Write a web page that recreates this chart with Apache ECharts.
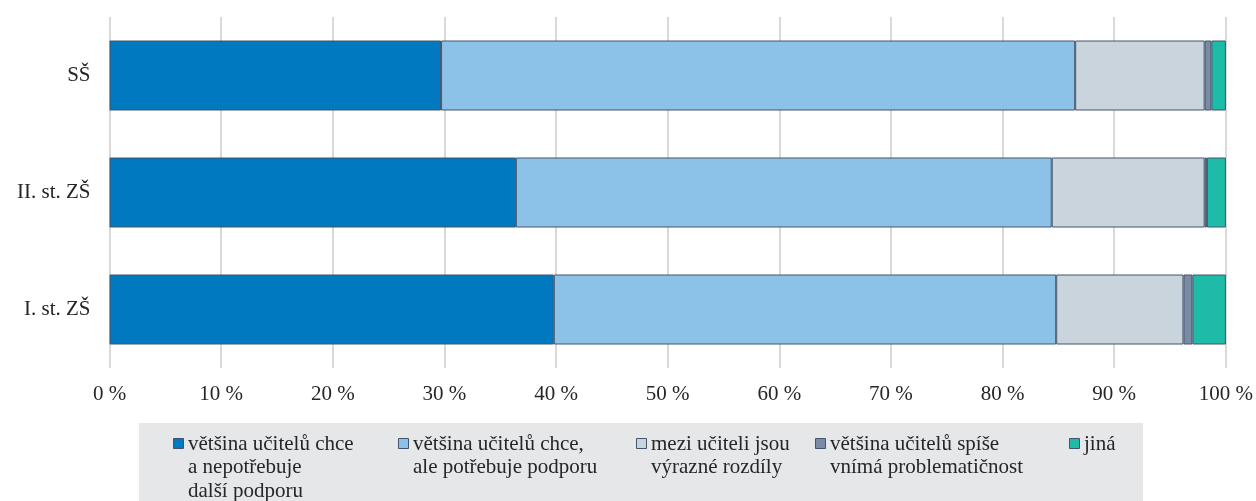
<!DOCTYPE html>
<html>
<head>
<meta charset="utf-8">
<script src="https://cdn.jsdelivr.net/npm/echarts@6/dist/echarts.min.js"></script>
<style>
  html, body { margin: 0; padding: 0; background: #fff; }
  #chart { width: 1256px; height: 501px; }
</style>
</head>
<body>
<div id="chart"></div>
<script>
// categories, bottom to top
const categories = ['I. st. ZŠ', 'II. st. ZŠ', 'SŠ'];

// shares in % per category (same order as categories)
const mostlyNoSupport = [39.8, 36.4, 29.7];
const wantSupport = [45.0, 48.0, 56.8];
const bigDifferences = [11.4, 13.7, 11.6];
const seeProblems = [0.8, 0.2, 0.6];
const other = [3.0, 1.7, 1.3];

const seriesNames = [
  'většina učitelů chce a nepotřebuje další podporu',
  'většina učitelů chce, ale potřebuje podporu',
  'mezi učiteli jsou výrazné rozdíly',
  'většina učitelů spíše vnímá problematičnost',
  'jiná'
];
// legend text as it is broken into lines
const legendLines = [
  ['většina učitelů chce', 'a nepotřebuje', 'další podporu'],
  ['většina učitelů chce,', 'ale potřebuje podporu'],
  ['mezi učiteli jsou', 'výrazné rozdíly'],
  ['většina učitelů spíše', 'vnímá problematičnost'],
  ['jiná']
];
const seriesData = [mostlyNoSupport, wantSupport, bigDifferences, seeProblems, other];
const colors = ['#0079C1', '#8DC2E8', '#CAD4DC', '#7A8CA5', '#1EBBA8'];

const font = '"Liberation Serif", "Times New Roman", serif';
const textColor = '#262626';

const chart = echarts.init(document.getElementById('chart'));

// hand-placed legend (columns sit at uneven offsets in the original)
const legendX = [173, 398, 636, 815, 1069];
const legendGraphics = [{
  type: 'rect',
  shape: { x: 139, y: 423, width: 1004, height: 80 },
  style: { fill: '#E6E7E9' },
  silent: true
}];
legendLines.forEach((lines, i) => {
  legendGraphics.push({
    type: 'rect',
    shape: { x: legendX[i] + 0.5, y: 438.5, width: 10, height: 10 },
    style: { fill: colors[i], stroke: '#44546A', lineWidth: 1 }
  });
  legendGraphics.push({
    type: 'text',
    x: legendX[i] + 15,
    y: 432.5,
    style: {
      text: lines.join('\n'),
      font: '21px ' + font,
      lineHeight: 23.5,
      fill: textColor,
      verticalAlign: 'top'
    }
  });
});

const option = {
  animation: false,
  grid: {
    left: 109.5,
    right: 28.5,
    top: 17,
    bottom: 133
  },
  xAxis: {
    type: 'value',
    min: 0,
    max: 100,
    interval: 10,
    axisLine: { show: false },
    axisTick: { show: false },
    splitLine: { lineStyle: { color: '#D9D9D9', width: 2 } },
    axisLabel: {
      margin: 16,
      fontFamily: font,
      fontSize: 21,
      color: textColor,
      formatter: v => v + ' %'
    }
  },
  yAxis: {
    type: 'category',
    data: categories,
    axisLine: { show: false },
    axisTick: { show: false },
    axisLabel: {
      margin: 19,
      fontFamily: font,
      fontSize: 21,
      color: textColor
    }
  },
  series: seriesData.map((d, i) => ({
    name: seriesNames[i],
    type: 'bar',
    stack: 'total',
    barWidth: 70,
    data: d,
    itemStyle: {
      color: colors[i],
      borderColor: '#44546A',
      borderWidth: 1
    }
  })),
  graphic: legendGraphics
};

chart.setOption(option);
</script>
</body>
</html>
